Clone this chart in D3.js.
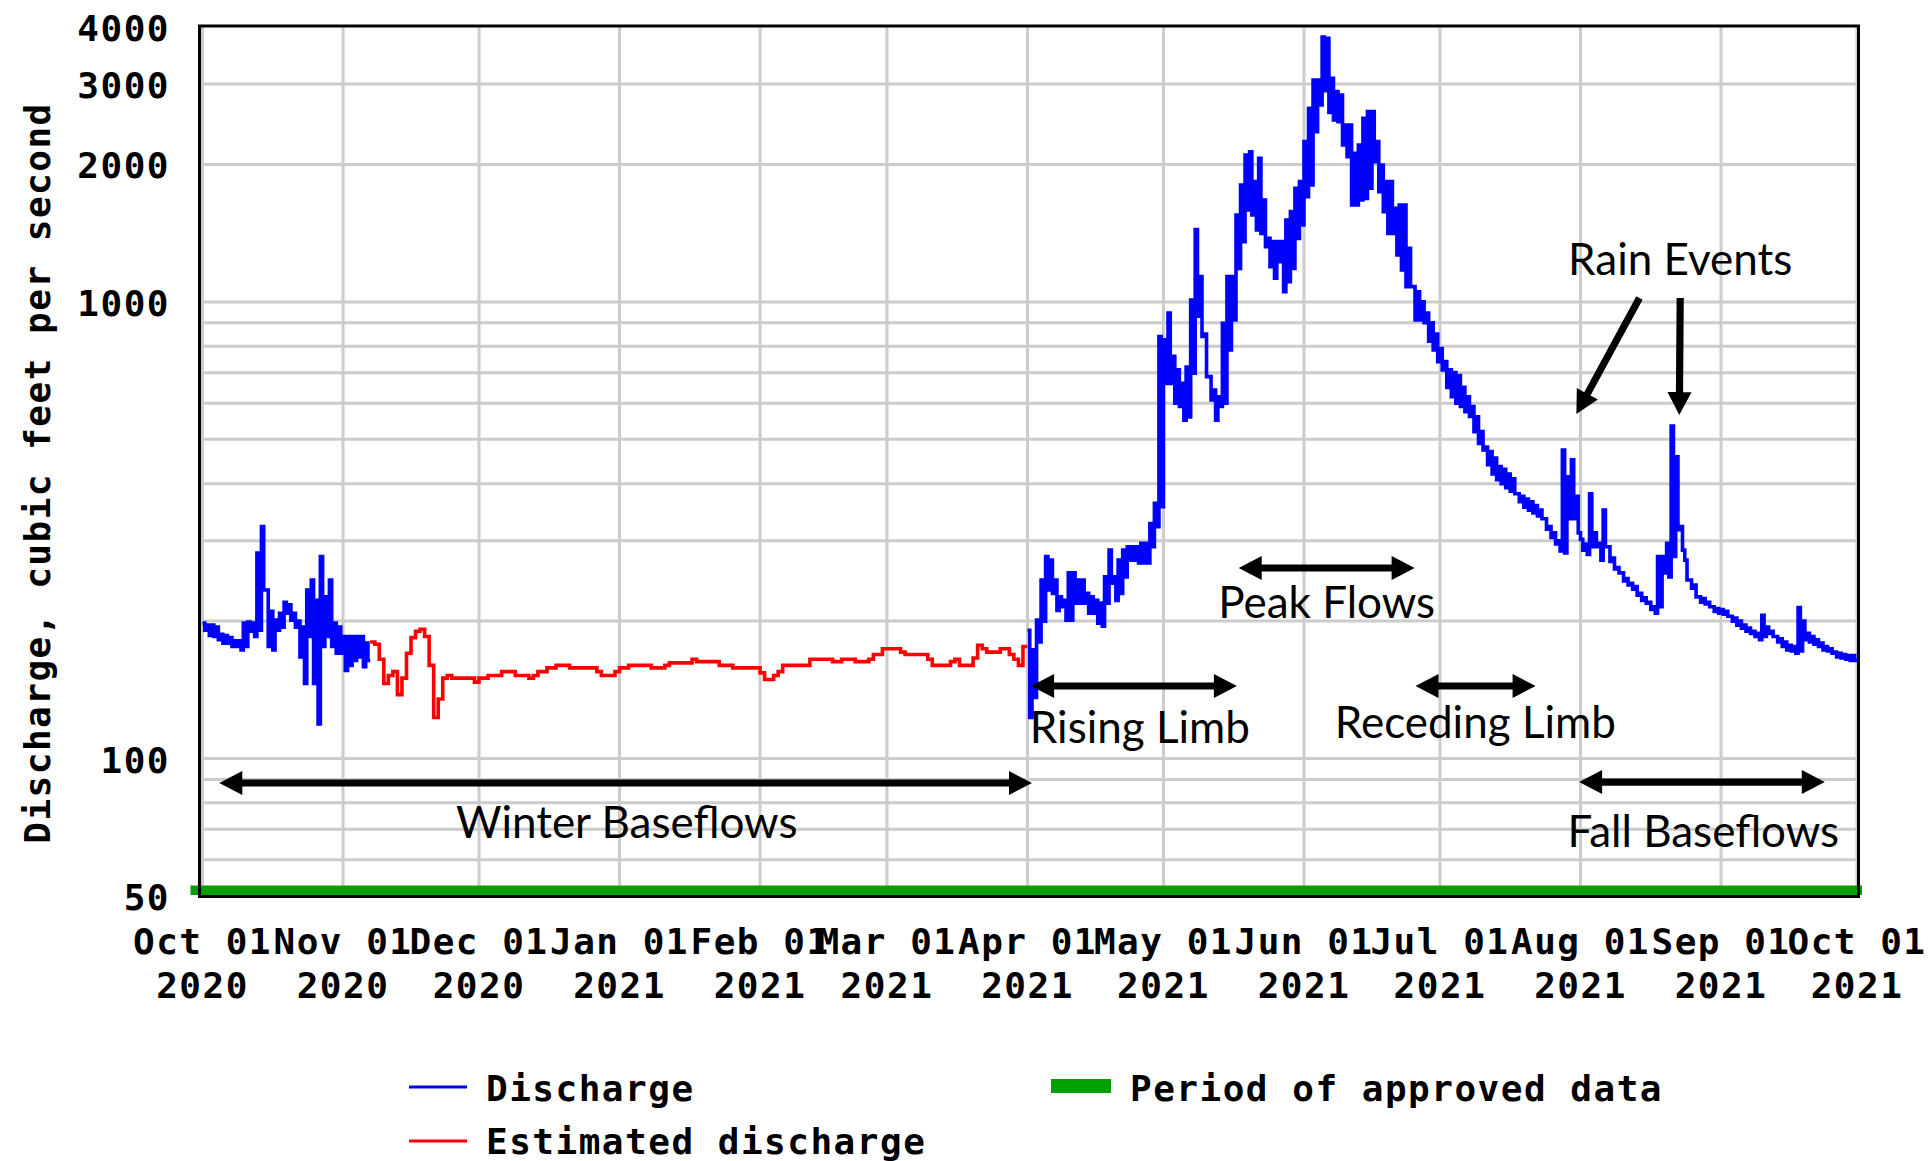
<!DOCTYPE html>
<html>
<head>
<meta charset="utf-8">
<script src="https://cdn.jsdelivr.net/npm/d3@7"></script>
<style>
  html, body { margin: 0; padding: 0; background: #ffffff; }
  svg { display: block; }
  .mono { font-family: "DejaVu Sans Mono", "Liberation Mono", monospace; font-weight: bold; font-size: 36px; letter-spacing: 1.5px; fill: #000; }
  .note { font-family: Lato, "Open Sans", sans-serif; font-size: 44px; fill: #000; }
</style>
</head>
<body>
<svg id="chart" width="1931" height="1161"></svg>
<script>
// Water year 2021 streamflow, cubic feet per second. Day 0 = 1 Oct 2020.
const startDay = "2020-10-01";
const endDay = "2021-10-01";

// Measured discharge, 1 Oct – 6 Nov 2020: daily high and low
const fallHigh = [198,196,196,194,187,186,184,181,181,198,199,198,282,322,234,210,201,208,220,217,
  208,200,194,234,246,222,277,226,246,198,194,185,185,185,185,185,179];
const fallLow = [191,186,185,182,179,179,176,176,173,176,190,185,191,234,176,173,191,194,208,201,
  194,167,146,185,146,119,176,185,176,170,170,156,160,164,167,159,164];

// Estimated discharge (ice-affected period), 7 Nov 2020 – 31 Mar 2021
const estimatedFirstDay = 37;
const estimated = [180,178,165,146,152,155,138,150,170,184,
  190,192,185,160,123,135,150,152,150,150,
  150,150,150,147,150,150,152,152,152,155,
  155,155,152,152,152,150,152,155,155,158,
  158,160,160,160,158,158,158,158,158,158,
  155,152,152,152,155,158,158,160,160,160,
  160,160,158,158,158,160,162,162,162,162,
  162,165,163,163,163,163,163,160,160,160,
  158,158,158,158,158,158,154,149,149,152,
  155,160,160,160,160,160,160,165,165,165,
  165,165,163,163,165,165,165,163,163,163,
  165,169,169,174,174,174,174,171,169,169,
  169,169,169,165,160,160,160,160,163,165,
  160,160,160,166,177,174,171,171,171,174,
  174,169,165,160,176];

// Measured discharge, 1 Apr – 30 Sep 2021: daily high and low
const springFirstDay = 182;
const springHigh = [191,173,201,246,277,272,246,226,222,255,
  255,246,246,230,226,222,219,250,286,250,
  272,286,291,291,291,296,296,327,362,840,
  826,945,760,710,663,720,1010,1440,1136,850,
  686,641,620,898,1136,1136,1550,1803,2098,2133,
  1834,2063,1672,1378,1355,1355,1355,1512,1577,1774,
  1834,2244,2655,3060,3060,3800,3780,3090,2887,2839,
  2441,2441,2116,2206,2524,2610,2610,2244,1995,1834,
  1834,1603,1630,1630,1310,1080,1053,1000,945,900,
  850,790,740,710,700,690,650,620,590,560,
  520,481,470,455,436,430,420,410,380,375,
  370,365,358,350,335,322,312,300,474,414,
  451,375,302,295,380,312,296,350,291,275,
  262,255,248,242,238,230,225,220,215,277,
  277,296,535,458,322,272,246,240,226,224,
  220,215,213,212,210,205,203,200,196,193,
  190,188,206,194,190,185,183,180,177,176,
  214,200,188,185,182,179,176,174,171,170,
  169,168,168];
const springLow = [123,136,180,200,234,230,211,215,201,201,
  219,219,219,208,208,198,195,219,242,222,
  230,250,272,272,268,268,268,291,322,356,
  663,663,600,590,551,560,698,930,840,686,
  610,551,590,600,785,913,1184,1355,1590,1550,
  1437,1413,1321,1194,1127,1225,1053,1108,1184,1378,
  1474,1700,1803,2360,2700,2900,2600,2503,2482,2206,
  2081,1630,1630,1672,1686,1774,2029,1744,1577,1413,
  1413,1267,1175,1080,1080,913,913,900,820,785,
  740,710,650,620,600,590,575,561,520,490,
  474,440,420,408,400,392,385,380,365,355,
  350,345,340,335,318,305,295,285,282,335,
  335,312,286,280,291,291,272,291,270,260,
  255,245,240,235,228,222,219,212,208,215,
  255,250,277,317,286,246,236,226,220,218,
  215,210,208,207,205,200,196,193,190,188,
  185,182,185,188,185,180,176,173,172,170,
  172,182,180,178,176,173,172,170,167,166,
  165,164,164];

// Axis labels
const yTickValues = [50, 100, 1000, 2000, 3000, 4000];
const yGridValues = [60, 70, 80, 90, 100, 200, 300, 400, 500, 600, 700, 800, 900, 1000, 2000, 3000];
const yTitle = "Discharge, cubic feet per second";

// Hydrograph phases: arrow span (days), arrow level and label level (cfs)
const phaseNames = ["Winter Baseflows", "Rising Limb", "Peak Flows", "Receding Limb", "Fall Baseflows"];
const phaseFrom = [3.7, 182.8, 228.6, 267.6, 303.7];
const phaseTo = [183.0, 228.2, 267.4, 294.1, 357.9];
const phaseCenter = [93.6, 206.8, 248.0, 280.8, 331.1];
const phaseArrowLevel = [88.4, 144.2, 261.4, 144.2, 88.8];
const phaseLabelLevel = [67.0, 108.2, 203, 110.9, 64.0];

// Rain events callout: label position and arrows (tail -> head)
const rainLabel = "Rain Events";
const rainLabelDay = 326.0, rainLabelLevel = 1146;
const rainArrowTail = [[317.0, 1020], [326.0, 1020]];
const rainArrowHead = [[303.1, 568], [325.8, 565]];

// Legend
const legendNames = ["Discharge", "Estimated discharge", "Period of approved data"];
const colors = { measured: "#0000ff", estimated: "#ff0000", approved: "#00a000", grid: "#cccccc" };

// ------------------------------------------------------------------
const svg = d3.select("#chart");
const parse = d3.utcParse("%Y-%m-%d");
const t0 = parse(startDay), t1 = parse(endDay);
const dayMs = 864e5;
const at = d => new Date(t0.getTime() + d * dayMs);

const x = d3.scaleUtc().domain([t0, t1]).range([202.5, 1857]);
const y = d3.scaleLog().domain([50, 4000]).range([896, 27]);
const [px0, px1] = x.range();
const [py0, py1] = y.range();

// grid
const grid = svg.append("g");
const months = d3.utcMonth.range(t0, d3.utcDay.offset(t1, 1));
grid.selectAll("line.v").data(months).join("line")
  .attr("x1", d => x(d)).attr("x2", d => x(d))
  .attr("y1", py1).attr("y2", py0)
  .attr("stroke", colors.grid).attr("stroke-width", 3);
grid.selectAll("line.h").data(yGridValues).join("line")
  .attr("x1", px0).attr("x2", px1)
  .attr("y1", d => y(d)).attr("y2", d => y(d))
  .attr("stroke", colors.grid).attr("stroke-width", 3);

// data series
svg.append("clipPath").attr("id", "plot")
  .append("rect").attr("x", px0 - 2).attr("y", py1 - 2).attr("width", px1 - px0 + 4).attr("height", py0 - py1 + 4);

function envelope(firstDay, hi, lo) {
  const pts = [];
  hi.forEach((h, i) => {
    pts.push([firstDay + i, h]);
    pts.push([firstDay + i + 0.5, lo[i]]);
  });
  const last = hi.length - 1;
  pts.push([firstDay + last + 1, lo[last]]);
  return pts;
}
const estimatedPts = estimated.map((v, i) => [estimatedFirstDay + i, v]);
estimatedPts.push([estimatedFirstDay + estimated.length, estimated[estimated.length - 1]]);

const line = d3.line()
  .x(p => x(at(p[0])))
  .y(p => y(p[1]))
  .curve(d3.curveStepAfter);

const series = svg.append("g").attr("clip-path", "url(#plot)")
  .attr("fill", "none").attr("stroke-width", 3.6).attr("stroke-linejoin", "miter");
series.append("path").attr("d", line(estimatedPts)).attr("stroke", colors.estimated);
series.append("path").attr("d", line(envelope(0, fallHigh, fallLow))).attr("stroke", colors.measured);
series.append("path").attr("d", line(envelope(springFirstDay, springHigh, springLow))).attr("stroke", colors.measured);

// approved-data bar along the bottom
svg.append("rect")
  .attr("x", x(t0) - 12).attr("y", py0 - 10.5)
  .attr("width", x(t1) - x(t0) + 17).attr("height", 9.5)
  .attr("fill", colors.approved);

// frame
svg.append("rect")
  .attr("x", px0 - 3).attr("y", py1 - 1)
  .attr("width", px1 - px0 + 4.5).attr("height", py0 - py1 + 1.5)
  .attr("fill", "none").attr("stroke", "#000").attr("stroke-width", 3);

// y tick labels
svg.append("g").selectAll("text").data(yTickValues).join("text")
  .attr("class", "mono")
  .attr("x", 170).attr("y", d => y(d) + 14)
  .attr("text-anchor", "end")
  .text(d3.format("d"));

// y title
svg.append("text").attr("class", "mono")
  .attr("transform", "translate(50,473) rotate(-90)")
  .attr("text-anchor", "middle")
  .text(yTitle);

// x tick labels: "Mon 01" over year
const fmtDay = d3.utcFormat("%b %d"), fmtYear = d3.utcFormat("%Y");
const xl = svg.append("g").selectAll("text").data(months).join("text")
  .attr("class", "mono").attr("text-anchor", "middle");
xl.append("tspan").attr("x", d => x(d)).attr("y", 954).text(fmtDay);
xl.append("tspan").attr("x", d => x(d)).attr("y", 998).text(fmtYear);

// legend
const lg = svg.append("g");
lg.append("line").attr("x1", 409).attr("x2", 467).attr("y1", 1087).attr("y2", 1087)
  .attr("stroke", colors.measured).attr("stroke-width", 3);
lg.append("text").attr("class", "mono").attr("x", 486).attr("y", 1101).text(legendNames[0]);
lg.append("line").attr("x1", 409).attr("x2", 467).attr("y1", 1141).attr("y2", 1141)
  .attr("stroke", colors.estimated).attr("stroke-width", 3);
lg.append("text").attr("class", "mono").attr("x", 486).attr("y", 1154).text(legendNames[1]);
lg.append("rect").attr("x", 1051).attr("y", 1079).attr("width", 60).attr("height", 14)
  .attr("fill", colors.approved);
lg.append("text").attr("class", "mono").attr("x", 1130).attr("y", 1101).text(legendNames[2]);

// annotation arrows
function arrowShape(p0, p1, both) {
  const dx = p1[0] - p0[0], dy = p1[1] - p0[1], L = Math.hypot(dx, dy);
  const ux = dx / L, uy = dy / L, nx = -uy, ny = ux;
  const hl = 23, hw = 12, sw = 3.6;
  const P = (s, n) => [p0[0] + ux * s + nx * n, p0[1] + uy * s + ny * n];
  const pts = [];
  if (both) pts.push(P(0, 0), P(hl, -hw), P(hl, -sw)); else pts.push(P(0, -sw));
  pts.push(P(L - hl, -sw), P(L - hl, -hw), P(L, 0), P(L - hl, hw), P(L - hl, sw));
  if (both) pts.push(P(hl, sw), P(hl, hw)); else pts.push(P(0, sw));
  return "M" + pts.map(p => p[0].toFixed(1) + "," + p[1].toFixed(1)).join("L") + "Z";
}
const notes = svg.append("g");
phaseNames.forEach((name, i) => {
  const yy = y(phaseArrowLevel[i]);
  notes.append("path")
    .attr("d", arrowShape([x(at(phaseFrom[i])), yy], [x(at(phaseTo[i])), yy], true))
    .attr("fill", "#000");
  notes.append("text").attr("class", "note")
    .attr("x", x(at(phaseCenter[i]))).attr("y", y(phaseLabelLevel[i]))
    .attr("text-anchor", "middle").text(name);
});
rainArrowTail.forEach((tail, i) => {
  const head = rainArrowHead[i];
  notes.append("path")
    .attr("d", arrowShape([x(at(tail[0])), y(tail[1])], [x(at(head[0])), y(head[1])], false))
    .attr("fill", "#000");
});
notes.append("text").attr("class", "note")
  .attr("x", x(at(rainLabelDay))).attr("y", y(rainLabelLevel))
  .attr("text-anchor", "middle").text(rainLabel);
</script>
</body>
</html>
